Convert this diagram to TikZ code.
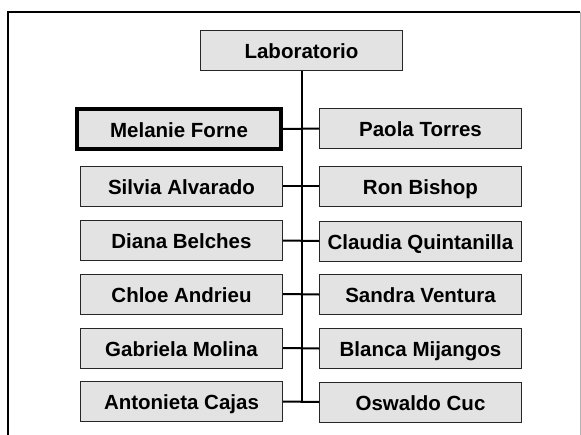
\documentclass[tikz,border=0pt]{standalone}
\usepackage{fontspec}
\setmainfont{Liberation Sans}

\begin{document}
\begin{tikzpicture}[x=1pt, y=-1pt,
		persona/.style = {draw=black!85, line width=1pt, fill=black!11, minimum width=202pt, minimum height=40pt, inner sep=0pt, text height=20pt, text depth=4pt, font=\fontsize{20.5}{24}\selectfont\bfseries},
		jefa/.style = {persona, draw=black, line width=4pt, minimum width=204pt},
		rama/.style = {line width=2pt}]
		\useasboundingbox (0,0) rectangle (581,434);
		\fill[white] (0,0) rectangle (581,434);
		\draw[line width=2pt] (8,440) -- (8,12) -- (580,12);
		\draw[black!30, line width=0.6pt] (580,12) -- (580,440);
		\node[persona] (lab) at (301.5,50.5) {Laboratorio};
		\node[jefa] (melanie) at (179,129) {Melanie Forne};
		\node[persona] (paola) at (420.5,128.5) {Paola Torres};
		\node[persona] (silvia) at (181.5,186) {Silvia Alvarado};
		\node[persona] (ron) at (420.5,186) {Ron Bishop};
		\node[persona] (diana) at (181.5,240.5) {Diana Belches};
		\node[persona] (claudia) at (420.5,241) {Claudia Quintanilla};
		\node[persona] (chloe) at (181.5,294) {Chloe Andrieu};
		\node[persona] (sandra) at (420.5,294.5) {Sandra Ventura};
		\node[persona] (gabriela) at (181.5,348) {Gabriela Molina};
		\node[persona] (blanca) at (420.5,348.5) {Blanca Mijangos};
		\node[persona] (antonieta) at (181.5,401.5) {Antonieta Cajas};
		\node[persona] (oswaldo) at (420.5,402) {Oswaldo Cuc};
		\draw[rama] (lab.south) -- (lab.south |- antonieta.east);
		\draw[rama] (melanie.east) -- (paola.west);
		\draw[rama] (silvia.east) -- (ron.west);
		\draw[rama] (diana.east) -- (claudia.west);
		\draw[rama] (chloe.east) -- (sandra.west);
		\draw[rama] (gabriela.east) -- (blanca.west);
		\draw[rama] (antonieta.east) -- (oswaldo.west);
	\end{tikzpicture}
\end{document}
